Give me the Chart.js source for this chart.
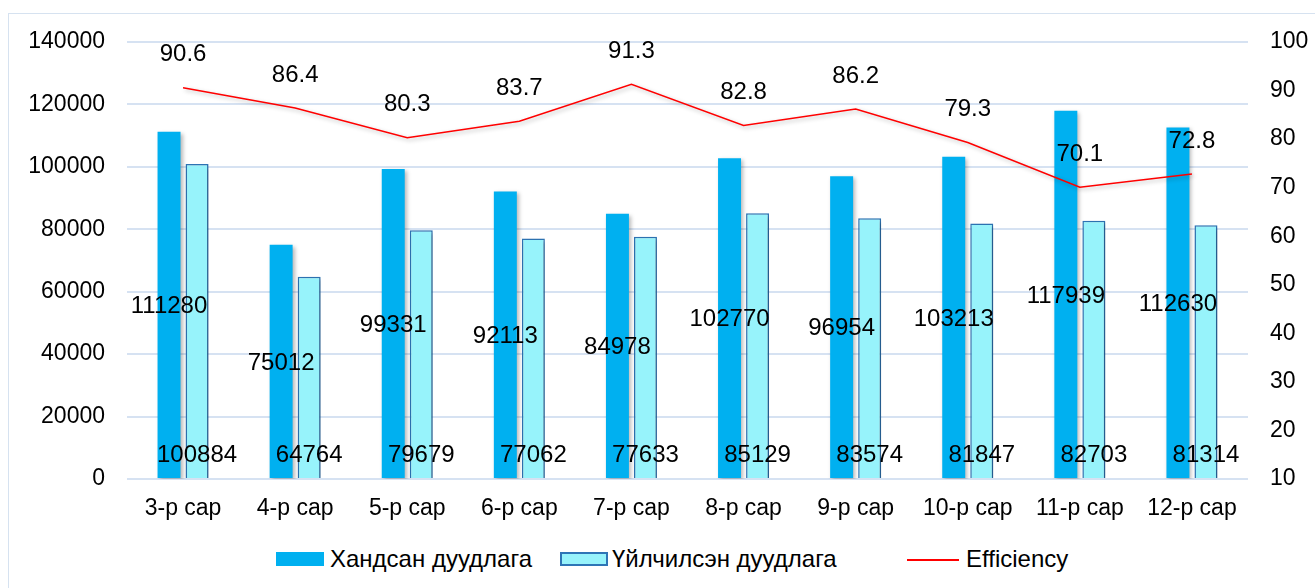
<!DOCTYPE html>
<html>
<head>
<meta charset="utf-8">
<script src="https://cdn.jsdelivr.net/npm/chart.js@4/dist/chart.umd.min.js"></script>
<style>
  body { margin: 0; background: #fff; font-family: "Liberation Sans", Arial, sans-serif; }
  #wrap { position: relative; width: 1315px; height: 588px; overflow: hidden; }
  #frame { position: absolute; left: 8px; top: 13px; width: 1320px; height: 600px; border: 1px solid #d6e2f0; box-sizing: border-box; }
  #chart { position: absolute; left: 0; top: 0; }
  .leg { position: absolute; top: 545px; font-size: 24px; color: #000; line-height: 28px; white-space: nowrap; }
  .box { position: absolute; width: 48px; height: 14px; top: 7px; box-sizing: border-box; }
</style>
</head>
<body>
<div id="wrap">
  <div id="frame"></div>
  <canvas id="chart" width="1315" height="540"></canvas>
  <div class="leg" style="left:276px"><span class="box" style="left:0;background:#00b0f0"></span><span style="position:absolute;left:54px">Хандсан дуудлага</span></div>
  <div class="leg" style="left:560px"><span class="box" style="left:0;background:#97f3fb;border:2px solid #2e75b6"></span><span style="position:absolute;left:52px">Үйлчилсэн дуудлага</span></div>
  <div class="leg" style="left:907px"><span class="box" style="left:0;height:0;top:14px;border-top:2px solid #ff0000;width:52px"></span><span style="position:absolute;left:59px">Efficiency</span></div>
</div>
<script>
const months = ['3-р сар', '4-р сар', '5-р сар', '6-р сар', '7-р сар', '8-р сар', '9-р сар', '10-р сар', '11-р сар', '12-р сар'];
const received = [111280, 75012, 99331, 92113, 84978, 102770, 96954, 103213, 117939, 112630];
const served = [100884, 64764, 79679, 77062, 77633, 85129, 83574, 81847, 82703, 81314];
const efficiency = [90.6, 86.4, 80.3, 83.7, 91.3, 82.8, 86.2, 79.3, 70.1, 72.8];

const family = '"Liberation Sans", Arial, sans-serif';
const tickFont = { family: family, size: 23 };
const labelSize = 24;

// soft shadow under bars and line, like the office chart
const shadowPlugin = {
  id: 'shadow',
  beforeDatasetDraw(chart) {
    const ctx = chart.ctx;
    ctx.save();
    ctx.shadowColor = 'rgba(0,0,0,0.28)';
    ctx.shadowBlur = 4;
    ctx.shadowOffsetX = 2;
    ctx.shadowOffsetY = 2;
  },
  afterDatasetDraw(chart) {
    chart.ctx.restore();
  }
};

// value labels
const labelPlugin = {
  id: 'labels',
  afterDatasetsDraw(chart) {
    const ctx = chart.ctx;
    ctx.save();
    ctx.font = labelSize + 'px ' + family;
    ctx.fillStyle = '#000';
    ctx.textAlign = 'center';
    ctx.textBaseline = 'middle';
    const base = chart.scales.y.getPixelForValue(0);
    chart.data.datasets.forEach((ds, i) => {
      const meta = chart.getDatasetMeta(i);
      meta.data.forEach((el, j) => {
        const v = ds.data[j];
        if (ds.type === 'line') {
          ctx.fillText(v.toFixed(1), el.x, el.y - 33);
        } else if (i === 1) {
          ctx.fillText(String(v), el.x, (el.y + base) / 2 + 1);
        } else {
          ctx.fillText(String(v), el.x, base - 24);
        }
      });
    });
    ctx.restore();
  }
};

new Chart(document.getElementById('chart'), {
  data: {
    labels: months,
    datasets: [
      {
        type: 'line',
        label: 'Efficiency',
        data: efficiency,
        yAxisID: 'y1',
        borderColor: '#ff0000',
        borderWidth: 1.5,
        pointRadius: 0,
        tension: 0,
        fill: false,
        order: 0
      },
      {
        type: 'bar',
        label: 'Хандсан дуудлага',
        data: received,
        yAxisID: 'y',
        backgroundColor: '#00b0f0',
        borderWidth: 0,
        categoryPercentage: 0.5,
        barPercentage: 0.82,
        order: 1
      },
      {
        type: 'bar',
        label: 'Үйлчилсэн дуудлага',
        data: served,
        yAxisID: 'y',
        backgroundColor: '#97f3fb',
        borderColor: '#2e75b6',
        borderWidth: 1.5,
        categoryPercentage: 0.5,
        barPercentage: 0.82,
        order: 1
      }
    ]
  },
  options: {
    responsive: false,
    animation: false,
    layout: { padding: { top: 42, left: 0, right: 0, bottom: 0 } },
    plugins: {
      legend: { display: false },
      tooltip: { enabled: false }
    },
    scales: {
      x: {
        grid: { display: false, drawTicks: false },
        border: { display: false },
        ticks: { color: '#000', font: tickFont, padding: 16, maxRotation: 0 },
        afterFit(scale) { scale.height = 61; }
      },
      y: {
        position: 'left',
        min: 0,
        max: 140000,
        grid: { color: '#d6e2f2', lineWidth: 2, drawTicks: false },
        border: { display: false },
        ticks: { stepSize: 20000, color: '#000', font: tickFont, padding: 22, callback: v => String(v) },
        afterFit(scale) { scale.width = 127; }
      },
      y1: {
        position: 'right',
        min: 10,
        max: 100,
        grid: { display: false, drawTicks: false },
        border: { display: false },
        ticks: { stepSize: 10, color: '#000', font: tickFont, padding: 22, callback: v => String(v) },
        afterFit(scale) { scale.width = 67; }
      }
    }
  },
  plugins: [shadowPlugin, labelPlugin]
});
</script>
</body>
</html>
